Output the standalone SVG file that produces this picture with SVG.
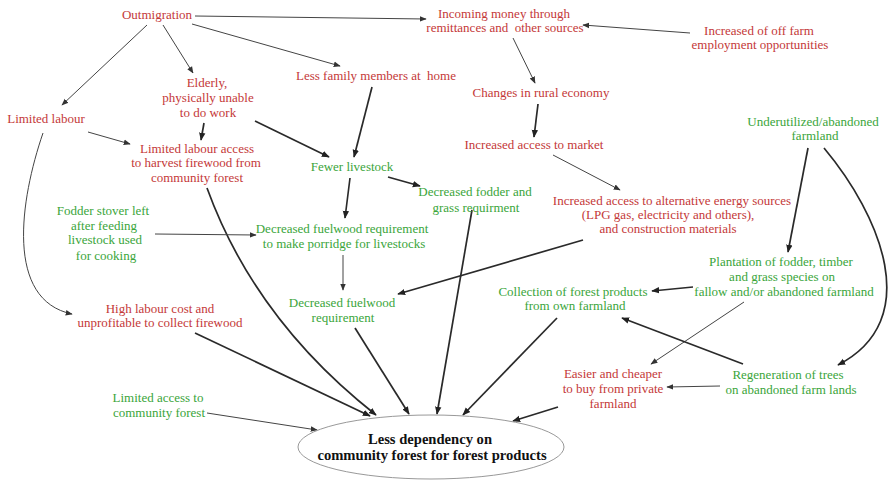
<svg xmlns="http://www.w3.org/2000/svg" width="888" height="480" viewBox="0 0 888 480">
<style>
text{font-family:"Liberation Serif","Times New Roman",serif;font-size:13px;text-anchor:middle;white-space:pre}
.r{fill:#c43838}
.g{fill:#3aa53a}
.b{fill:#111;font-weight:bold;font-size:14.6px}
.c{fill:none;stroke:#444;stroke-width:1;marker-end:url(#a)}
.t{fill:none;stroke:#2a2a2a;stroke-width:1.7;marker-end:url(#a2)}
</style>
<defs>
<marker id="a" viewBox="0 0 10 10" refX="9" refY="5" markerWidth="7" markerHeight="7" markerUnits="userSpaceOnUse" orient="auto"><path d="M0,1 L10,5 L0,9 z" fill="#333"/></marker>
<marker id="a2" viewBox="0 0 10 10" refX="9" refY="5" markerWidth="8" markerHeight="8" markerUnits="userSpaceOnUse" orient="auto"><path d="M0,1 L10,5 L0,9 z" fill="#222"/></marker>
</defs>
<rect width="888" height="480" fill="#fff"/>
<g id="connectors">
<path class="c" d="M195,16 L426,19"/>
<path class="c" d="M147,25 L62,105"/>
<path class="c" d="M163,25 L193,73"/>
<path class="c" d="M192,24 L340,66"/>
<path class="c" d="M690,33 L583,25"/>
<path class="c" d="M513,38 L535,83"/>
<path class="t" d="M538,104 L534,137"/>
<path class="c" d="M553,155 L620,190"/>
<path class="t" d="M255,121 L329,157"/>
<path class="t" d="M204,123 L201,140"/>
<path class="c" d="M88,132 L130,144"/>
<path class="t" d="M372,87 L354,157"/>
<path class="c" d="M43,133 C20,200 5,300 72,314"/>
<path class="t" d="M207,188 Q255,320 376,415"/>
<path class="t" d="M195,333 L370,416"/>
<path class="c" d="M207,413 L317,430"/>
<path class="c" d="M155,234 L256,235"/>
<path class="t" d="M350,178 L345,218"/>
<path class="t" d="M388,177 L420,186"/>
<path class="c" d="M343,255 L343,290"/>
<path class="t" d="M583,240 L398,294"/>
<path class="t" d="M472,210 L437,414"/>
<path class="t" d="M355,328 L409,414"/>
<path class="t" d="M557,318 L463,415"/>
<path class="t" d="M558,407 L513,421"/>
<path class="t" d="M808,148 L788,252"/>
<path class="t" d="M824,148 C880,215 925,320 838,365"/>
<path class="t" d="M693,287 L652,291"/>
<path class="c" d="M744,302 L651,364"/>
<path class="t" d="M743,364 L622,318"/>
<path class="c" d="M720,386 L667,387"/>
</g>
<g id="outmigration"><text class="r" x="157" y="19">Outmigration</text></g>
<g id="incoming-money"><text class="r" x="504" y="18">Incoming money through</text><text class="r" x="505" y="32" xml:space="preserve">remittances and  other sources</text></g>
<g id="off-farm"><text class="r" x="759" y="35">Increased of off farm</text><text class="r" x="760" y="49">employment opportunities</text></g>
<g id="elderly"><text class="r" x="207" y="87">Elderly,</text><text class="r" x="208" y="102">physically unable</text><text class="r" x="208" y="117">to do work</text></g>
<g id="limited-labour"><text class="r" x="46" y="123">Limited labour</text></g>
<g id="less-family"><text class="r" x="376" y="80" xml:space="preserve">Less family members at  home</text></g>
<g id="rural-economy"><text class="r" x="541" y="97">Changes in rural economy</text></g>
<g id="market"><text class="r" x="534" y="149">Increased access to market</text></g>
<g id="underutilized"><text class="g" x="813" y="126">Underutilized/abandoned</text><text class="g" x="815" y="140">farmland</text></g>
<g id="labour-access"><text class="r" x="197" y="153">Limited labour access</text><text class="r" x="196" y="167">to harvest firewood from</text><text class="r" x="197" y="182">community forest</text></g>
<g id="fewer-livestock"><text class="g" x="352" y="171">Fewer livestock</text></g>
<g id="fodder-grass"><text class="g" x="475" y="196">Decreased fodder and</text><text class="g" x="476" y="212">grass requirment</text></g>
<g id="alt-energy"><text class="r" x="672" y="205">Increased access to alternative energy sources</text><text class="r" x="668" y="219">(LPG gas, electricity and others),</text><text class="r" x="668" y="233">and construction materials</text></g>
<g id="fodder-stover"><text class="g" x="103" y="215">Fodder stover left</text><text class="g" x="104" y="230">after feeding</text><text class="g" x="105" y="244">livestock used</text><text class="g" x="106" y="260">for cooking</text></g>
<g id="porridge"><text class="g" x="342" y="233">Decreased fuelwood requirement</text><text class="g" x="344" y="248">to make porridge for livestocks</text></g>
<g id="plantation"><text class="g" x="781" y="266">Plantation of fodder, timber</text><text class="g" x="782" y="281">and grass species on</text><text class="g" x="784" y="296">fallow and/or abandoned farmland</text></g>
<g id="collection"><text class="g" x="573" y="296">Collection of forest products</text><text class="g" x="575" y="310">from own farmland</text></g>
<g id="fuelwood"><text class="g" x="342" y="307">Decreased fuelwood</text><text class="g" x="343" y="322">requirement</text></g>
<g id="high-labour-cost"><text class="r" x="160" y="313">High labour cost and</text><text class="r" x="160" y="327">unprofitable to collect firewood</text></g>
<g id="limited-access"><text class="g" x="158" y="402">Limited access to</text><text class="g" x="159" y="417">community forest</text></g>
<g id="easier"><text class="r" x="613" y="378">Easier and cheaper</text><text class="r" x="613" y="393">to buy from private</text><text class="r" x="613" y="408">farmland</text></g>
<g id="regeneration"><text class="g" x="788" y="379">Regeneration of trees</text><text class="g" x="791" y="394">on abandoned farm lands</text></g>
<g id="outcome"><ellipse cx="431" cy="447" rx="133" ry="32" fill="#fff" stroke="#999" stroke-width="1"/><text class="b" x="430" y="444">Less dependency on</text><text class="b" x="432" y="460">community forest for forest products</text></g>
</svg>
